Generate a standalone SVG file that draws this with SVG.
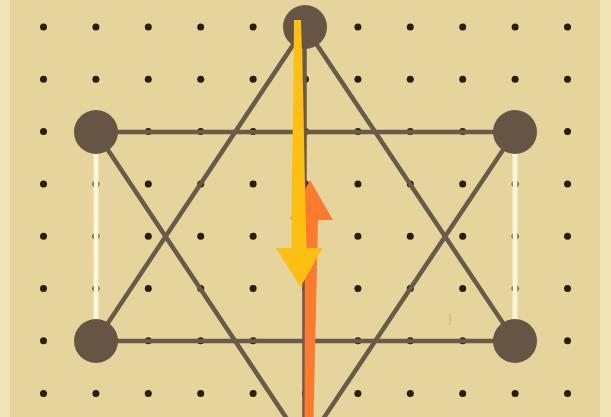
<svg xmlns="http://www.w3.org/2000/svg" width="611" height="417" viewBox="0 0 611 417">
<defs>
<style>
.dot{fill:#2e1b0a}
.edge{stroke:#6a5a4a;stroke-width:4.5;fill:none;stroke-linecap:round}
.white{stroke:#fbf3da;stroke-width:5;fill:none}
.node{fill:#665545}
</style>
</defs>
<rect x="0" y="0" width="611" height="417" fill="#e5d49b"/>
<rect x="0" y="0" width="10" height="417" fill="#f4e5b8"/>
<rect x="600" y="0" width="11" height="417" fill="#f4e5b8"/>
<g id="dots">
<circle class="dot" cx="43.5" cy="27" r="3.5"/><circle class="dot" cx="95.9" cy="27" r="3.5"/><circle class="dot" cx="148.3" cy="27" r="3.5"/><circle class="dot" cx="200.7" cy="27" r="3.5"/><circle class="dot" cx="253.1" cy="27" r="3.5"/><circle class="dot" cx="357.9" cy="27" r="3.5"/><circle class="dot" cx="410.3" cy="27" r="3.5"/><circle class="dot" cx="462.7" cy="27" r="3.5"/><circle class="dot" cx="515.1" cy="27" r="3.5"/><circle class="dot" cx="567.5" cy="27" r="3.5"/>
<circle class="dot" cx="43.5" cy="79.3" r="3.5"/><circle class="dot" cx="95.9" cy="79.3" r="3.5"/><circle class="dot" cx="148.3" cy="79.3" r="3.5"/><circle class="dot" cx="200.7" cy="79.3" r="3.5"/><circle class="dot" cx="253.1" cy="79.3" r="3.5"/><circle class="dot" cx="305.5" cy="79.3" r="3.5"/><circle class="dot" cx="357.9" cy="79.3" r="3.5"/><circle class="dot" cx="410.3" cy="79.3" r="3.5"/><circle class="dot" cx="462.7" cy="79.3" r="3.5"/><circle class="dot" cx="515.1" cy="79.3" r="3.5"/><circle class="dot" cx="567.5" cy="79.3" r="3.5"/>
<circle class="dot" cx="43.5" cy="131.6" r="3.5"/><circle class="dot" cx="148.3" cy="131.6" r="3.5"/><circle class="dot" cx="200.7" cy="131.6" r="3.5"/><circle class="dot" cx="253.1" cy="131.6" r="3.5"/><circle class="dot" cx="305.5" cy="131.6" r="3.5"/><circle class="dot" cx="357.9" cy="131.6" r="3.5"/><circle class="dot" cx="410.3" cy="131.6" r="3.5"/><circle class="dot" cx="462.7" cy="131.6" r="3.5"/><circle class="dot" cx="567.5" cy="131.6" r="3.5"/>
<circle class="dot" cx="43.5" cy="183.9" r="3.5"/><circle class="dot" cx="95.9" cy="183.9" r="3.5"/><circle class="dot" cx="148.3" cy="183.9" r="3.5"/><circle class="dot" cx="200.7" cy="183.9" r="3.5"/><circle class="dot" cx="253.1" cy="183.9" r="3.5"/><circle class="dot" cx="305.5" cy="183.9" r="3.5"/><circle class="dot" cx="357.9" cy="183.9" r="3.5"/><circle class="dot" cx="410.3" cy="183.9" r="3.5"/><circle class="dot" cx="462.7" cy="183.9" r="3.5"/><circle class="dot" cx="515.1" cy="183.9" r="3.5"/><circle class="dot" cx="567.5" cy="183.9" r="3.5"/>
<circle class="dot" cx="43.5" cy="236.2" r="3.5"/><circle class="dot" cx="95.9" cy="236.2" r="3.5"/><circle class="dot" cx="148.3" cy="236.2" r="3.5"/><circle class="dot" cx="200.7" cy="236.2" r="3.5"/><circle class="dot" cx="253.1" cy="236.2" r="3.5"/><circle class="dot" cx="305.5" cy="236.2" r="3.5"/><circle class="dot" cx="357.9" cy="236.2" r="3.5"/><circle class="dot" cx="410.3" cy="236.2" r="3.5"/><circle class="dot" cx="462.7" cy="236.2" r="3.5"/><circle class="dot" cx="515.1" cy="236.2" r="3.5"/><circle class="dot" cx="567.5" cy="236.2" r="3.5"/>
<circle class="dot" cx="43.5" cy="288.5" r="3.5"/><circle class="dot" cx="95.9" cy="288.5" r="3.5"/><circle class="dot" cx="148.3" cy="288.5" r="3.5"/><circle class="dot" cx="200.7" cy="288.5" r="3.5"/><circle class="dot" cx="253.1" cy="288.5" r="3.5"/><circle class="dot" cx="305.5" cy="288.5" r="3.5"/><circle class="dot" cx="357.9" cy="288.5" r="3.5"/><circle class="dot" cx="410.3" cy="288.5" r="3.5"/><circle class="dot" cx="462.7" cy="288.5" r="3.5"/><circle class="dot" cx="515.1" cy="288.5" r="3.5"/><circle class="dot" cx="567.5" cy="288.5" r="3.5"/>
<circle class="dot" cx="43.5" cy="340.8" r="3.5"/><circle class="dot" cx="148.3" cy="340.8" r="3.5"/><circle class="dot" cx="200.7" cy="340.8" r="3.5"/><circle class="dot" cx="253.1" cy="340.8" r="3.5"/><circle class="dot" cx="305.5" cy="340.8" r="3.5"/><circle class="dot" cx="357.9" cy="340.8" r="3.5"/><circle class="dot" cx="410.3" cy="340.8" r="3.5"/><circle class="dot" cx="462.7" cy="340.8" r="3.5"/><circle class="dot" cx="567.5" cy="340.8" r="3.5"/>
<circle class="dot" cx="43.5" cy="393.5" r="3.5"/><circle class="dot" cx="95.9" cy="393.5" r="3.5"/><circle class="dot" cx="148.3" cy="393.5" r="3.5"/><circle class="dot" cx="200.7" cy="393.5" r="3.5"/><circle class="dot" cx="253.1" cy="393.5" r="3.5"/><circle class="dot" cx="305.5" cy="393.5" r="3.5"/><circle class="dot" cx="357.9" cy="393.5" r="3.5"/><circle class="dot" cx="410.3" cy="393.5" r="3.5"/><circle class="dot" cx="462.7" cy="393.5" r="3.5"/><circle class="dot" cx="515.1" cy="393.5" r="3.5"/><circle class="dot" cx="567.5" cy="393.5" r="3.5"/>
</g>
<g id="connectors">
<line class="edge" x1="305" y1="27" x2="96" y2="341"/>
<line class="edge" x1="305" y1="27" x2="515" y2="341"/>
<line class="edge" x1="96" y1="132" x2="305" y2="446"/>
<line class="edge" x1="515" y1="132" x2="305" y2="446"/>
<line class="edge" x1="96" y1="132" x2="515" y2="132"/>
<line class="edge" x1="96" y1="341" x2="515" y2="341"/>
<line class="edge" x1="304.5" y1="27" x2="304.5" y2="446"/>
<line class="white" x1="96" y1="132" x2="96" y2="341"/>
<line class="white" x1="515" y1="132" x2="515" y2="341"/>
</g>
<g id="node-top"><circle class="node" cx="305" cy="27" r="22"/></g>
<g id="node-left-top"><circle class="node" cx="96" cy="132" r="22"/></g>
<g id="node-right-top"><circle class="node" cx="515" cy="132" r="22"/></g>
<g id="node-left-bottom"><circle class="node" cx="96" cy="341" r="22"/></g>
<g id="node-right-bottom"><circle class="node" cx="515" cy="341" r="22"/></g>
<g id="arrows">
<path d="M449.5,313 L450.5,319 L449.5,325" stroke="#e9a35c" stroke-width="1" fill="none"/>
<polygon fill="#fd7a2f" points="304.5,420 305,220 290,219 310,180 333,220 318,220 313.5,420"/>
<polygon fill="#fdbf12" points="294,20 301,20 303.3,100 305,190 306.5,248 322.5,248 300.5,287 276,248 291.7,248 291.7,190 293.3,100"/>
</g>
</svg>
